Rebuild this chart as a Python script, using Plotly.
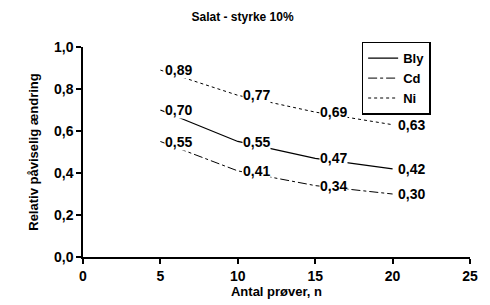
import plotly.graph_objects as go

n_values = [5, 10, 15, 20]
bly = [0.70, 0.55, 0.47, 0.42]
cd = [0.55, 0.41, 0.34, 0.30]
ni = [0.89, 0.77, 0.69, 0.63]
series_names = ["Bly", "Cd", "Ni"]
x_ticks = [0, 5, 10, 15, 20, 25]
y_ticks = [0.0, 0.2, 0.4, 0.6, 0.8, 1.0]

FONT = "Liberation Sans, Arial, sans-serif"
fig = go.Figure()
styles = [("solid", 1.3), ("dashdot", 1.0), ("dot", 1.0)]
for name, vals, (dash, w) in zip(series_names, [bly, cd, ni], styles):
    fig.add_trace(go.Scatter(x=n_values, y=vals, mode="lines", name=name,
                             line=dict(color="black", width=w, dash=dash)))
    for xv, yv in zip(n_values, vals):
        fig.add_annotation(x=xv, y=yv, text=f"{yv:.2f}".replace(".", ","),
                           showarrow=False, xanchor="left", yanchor="middle",
                           xshift=4, bgcolor="white", borderpad=0,
                           font=dict(family=FONT, size=14, color="black", weight="bold"))

fig.update_layout(
    width=490, height=305,
    margin=dict(l=83, r=18, t=47, b=47),
    paper_bgcolor="white", plot_bgcolor="white",
    separators=", ",
    title=dict(text="Salat - styrke 10%", x=0.495, xanchor="center", y=0.945, yanchor="middle",
               font=dict(family=FONT, size=12, color="black", weight="bold")),
    legend=dict(x=0.72, y=1.025, xanchor="left", yanchor="top",
                bordercolor="black", borderwidth=1.5, bgcolor="white",
                font=dict(family=FONT, size=13, color="black", weight="bold"),
                tracegroupgap=0, itemwidth=30),
    xaxis=dict(range=[0, 25], tickvals=x_ticks, showgrid=False, zeroline=False,
               showline=True, linecolor="black", linewidth=1.5,
               ticks="outside", ticklen=5, tickcolor="black", tickwidth=1.5,
               tickfont=dict(family=FONT, size=14, color="black", weight="bold"),
               title=dict(text="Antal prøver, n", standoff=0,
                          font=dict(family=FONT, size=13, color="black", weight="bold"))),
    yaxis=dict(range=[0, 1.0], tickvals=y_ticks, tickformat=".1f", showgrid=False, zeroline=False,
               showline=True, linecolor="black", linewidth=1.5,
               ticks="outside", ticklen=5, tickcolor="black", tickwidth=1.5,
               tickfont=dict(family=FONT, size=14, color="black", weight="bold"),
               title=dict(text="Relativ påviselig ændring", standoff=12,
                          font=dict(family=FONT, size=13, color="black", weight="bold"))),
)
fig.write_html("out.html")
